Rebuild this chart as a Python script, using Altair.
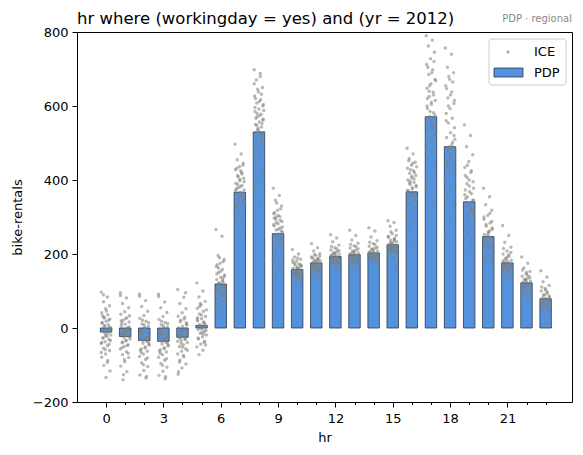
import altair as alt
import pandas as pd

hours = list(range(24))
pdp = [-11, -23, -34, -36, -25, 7, 119, 367, 530, 255, 158, 176,
       193, 198, 203, 225, 368, 571, 490, 341, 247, 176, 122, 79]

ice = [
    [97, 84, 71, 60, 52, 41, 36, 29, 24, 18, 13, 9, 4, 1, -3, -7, -11, -14, -19, -23, -26, -31, -37, -42, -48, -55, -61, -70, -79, -88, -101, -116, -134, 15, -9, 27, -34, 46, 33, 21, 7, -1, -16, -28, -44, -58, -66, -93, 90, 2, -21, -39],
    [95, 81, 66, 55, 44, 37, 28, 21, 16, 10, 5, 0, -5, -9, -14, -18, -22, -26, -30, -35, -40, -45, -50, -57, -64, -72, -80, -91, -103, -118, -140, 3, -20, 19, -47, -126, 33, 25, 12, -2, -12, -24, -33, -53, -68, -85, 88, -7, -38],
    [92, 74, 58, 45, 34, 26, 18, 11, 5, -1, -7, -12, -17, -22, -27, -31, -36, -41, -46, -51, -57, -63, -70, -77, -85, -94, -104, -115, -127, -135, -9, -38, 8, -60, -131, 21, 14, 1, -15, -25, -33, -44, -54, -66, -81, -99, 86, -29],
    [91, 70, 55, 42, 31, 23, 15, 9, 3, -3, -9, -14, -19, -24, -29, -34, -38, -43, -48, -53, -59, -65, -72, -79, -87, -96, -106, -117, -128, -137, -11, -40, 6, -63, -132, 18, 12, -1, -17, -27, -36, -46, -56, -68, -83, -101, 85, -31],
    [104, 83, 66, 52, 41, 32, 24, 17, 11, 5, 0, -5, -10, -15, -20, -25, -29, -34, -39, -45, -50, -56, -63, -70, -78, -87, -97, -108, -125, -2, -27, 14, -52, -118, 29, 21, 8, -8, -18, -31, -42, -60, -74, -92, 95, -22, -36],
    [122, 100, 84, 72, 62, 53, 45, 38, 31, 25, 19, 14, 9, 4, 0, -4, -9, -14, -19, -24, -30, -36, -43, -51, -60, -72, 11, -2, 23, -17, 58, -46, 35, 28, 16, 6, -7, -12, -27, -39, 66, 49],
    [266, 248, 196, 185, 175, 166, 158, 150, 143, 137, 131, 125, 120, 115, 110, 105, 100, 95, 90, 85, 80, 74, 68, 61, 52, 36, 140, 118, 102, 128, 162, 88, 153, 146, 134, 122, 112, 97, 171, 180, 190, 108],
    [497, 470, 455, 445, 436, 428, 420, 412, 405, 398, 391, 385, 379, 373, 367, 361, 355, 349, 343, 337, 331, 324, 316, 307, 297, 285, 270, 252, 372, 358, 388, 346, 402, 330, 416, 409, 395, 382, 376, 364, 352, 340, 425, 432, 440],
    [698, 688, 670, 650, 638, 627, 617, 608, 600, 592, 585, 578, 571, 564, 557, 550, 543, 536, 528, 520, 511, 501, 490, 478, 463, 445, 425, 402, 375, 339, 548, 562, 531, 596, 515, 580, 604, 612, 620, 632, 645, 588, 574, 567, 553, 540, 660, 680],
    [378, 358, 345, 330, 318, 309, 301, 294, 288, 282, 276, 270, 265, 259, 254, 248, 242, 236, 229, 222, 214, 205, 195, 183, 168, 150, 262, 250, 280, 240, 300, 232, 305, 297, 291, 285, 273, 267, 312, 322, 338],
    [212, 200, 192, 186, 181, 177, 173, 170, 167, 164, 161, 158, 155, 152, 149, 146, 143, 140, 137, 133, 129, 124, 118, 110, 160, 150, 171, 144, 184, 139, 175, 168, 163, 157, 153, 147, 142, 189],
    [228, 217, 208, 201, 196, 192, 188, 185, 182, 179, 176, 173, 170, 167, 164, 161, 158, 155, 151, 146, 141, 136, 178, 170, 186, 166, 194, 160, 190, 183, 180, 174, 168, 163, 157, 199],
    [252, 243, 233, 224, 217, 211, 206, 202, 199, 196, 193, 190, 187, 184, 181, 178, 175, 171, 166, 158, 195, 188, 204, 183, 214, 180, 209, 200, 197, 192, 186, 177, 173, 220],
    [264, 250, 238, 229, 222, 216, 211, 207, 203, 200, 197, 194, 191, 188, 185, 182, 178, 173, 165, 153, 199, 193, 208, 189, 220, 184, 214, 205, 201, 196, 190, 180, 176, 226],
    [271, 262, 246, 236, 228, 221, 216, 212, 208, 205, 202, 199, 196, 193, 190, 187, 183, 178, 170, 150, 204, 198, 214, 194, 226, 189, 218, 210, 206, 200, 195, 185, 181, 232],
    [290, 285, 275, 264, 255, 248, 242, 237, 233, 229, 226, 223, 220, 217, 214, 211, 207, 202, 196, 188, 178, 167, 228, 220, 236, 215, 250, 210, 245, 240, 231, 224, 218, 212, 205, 260],
    [486, 470, 458, 448, 440, 432, 425, 418, 412, 406, 400, 394, 388, 382, 376, 370, 364, 357, 350, 342, 334, 325, 314, 301, 285, 265, 240, 217, 372, 360, 392, 352, 410, 345, 403, 397, 385, 379, 366, 420, 428, 436, 445, 452],
    [790, 778, 762, 745, 728, 712, 698, 685, 672, 660, 648, 637, 626, 615, 604, 593, 582, 571, 560, 548, 536, 523, 509, 494, 477, 458, 435, 408, 374, 340, 302, 575, 560, 600, 545, 640, 520, 610, 620, 630, 655, 668, 690, 705, 720, 585, 565, 540],
    [757, 740, 705, 690, 672, 655, 638, 622, 607, 593, 580, 567, 554, 541, 528, 515, 502, 489, 476, 463, 449, 434, 418, 400, 380, 357, 330, 297, 252, 495, 480, 520, 470, 560, 455, 600, 615, 630, 647, 665, 680, 510, 485, 440],
    [549, 520, 490, 468, 450, 434, 420, 407, 395, 384, 373, 363, 354, 345, 336, 327, 318, 309, 300, 290, 280, 269, 257, 243, 226, 205, 345, 333, 360, 322, 390, 310, 400, 412, 425, 440, 378, 368, 350, 315, 295],
    [378, 355, 333, 318, 305, 294, 284, 275, 267, 260, 253, 246, 240, 234, 228, 222, 216, 210, 203, 195, 187, 178, 250, 242, 262, 236, 288, 225, 300, 310, 280, 270, 256, 231, 219],
    [277, 250, 232, 218, 208, 200, 194, 188, 183, 179, 175, 171, 167, 163, 159, 155, 150, 145, 139, 131, 178, 172, 186, 168, 198, 162, 204, 191, 181, 176, 169, 165, 158, 215],
    [192, 175, 162, 153, 146, 140, 135, 131, 127, 123, 119, 115, 111, 107, 103, 99, 94, 88, 80, 68, 124, 118, 132, 113, 142, 108, 137, 129, 121, 116, 110, 104, 150, 157],
    [155, 138, 125, 115, 107, 100, 94, 89, 84, 80, 76, 72, 68, 63, 58, 52, 45, 37, 27, 13, 82, 75, 90, 70, 98, 65, 86, 78, 73, 66, 60, 55, 103, 111],
]

x_major_ticks = [0, 3, 6, 9, 12, 15, 18, 21]
y_ticks = [-200, 0, 200, 400, 600, 800]
title_text = "hr where (workingday = yes) and (yr = 2012)"
corner_text = "PDP · regional"
legend_labels = ["ICE", "PDP"]

FONT = "DejaVu Sans"
W, H = 495, 370

bars_df = pd.DataFrame({"hr": hours, "pdp": pdp})
rows = []
for h, vals in zip(hours, ice):
    for k, v in enumerate(vals):
        rows.append({"hr": h, "value": v, "k": k})
ice_df = pd.DataFrame(rows)

xscale = alt.Scale(domain=[-1.52, 24.38], nice=False, zero=False)
yscale = alt.Scale(domain=[-200, 800], nice=False, zero=False)

y_axis = alt.Axis(values=y_ticks, title="bike-rentals", grid=False, tickSize=5,
                  labelPadding=4, titlePadding=8, domain=False,
                  labelExpr="replace(datum.label, '-', '\u2212')")
x_major = alt.Axis(values=x_major_ticks, title="hr", grid=False, tickSize=5,
                   labelPadding=5, titlePadding=6, domain=False, orient="bottom")
x_minor = alt.Axis(values=hours, title=None, labels=False, grid=False, tickSize=2.5,
                   domain=False, orient="bottom")

bars = alt.Chart(bars_df).transform_calculate(
    x0="datum.hr - 0.3", x1="datum.hr + 0.3", zero="0"
).mark_bar(fill="#5592DE", stroke="#2b3848", strokeWidth=0.8).encode(
    x=alt.X("x0:Q", scale=xscale, axis=x_major),
    x2="x1:Q",
    y=alt.Y("pdp:Q", scale=yscale, axis=y_axis),
    y2="zero:Q",
)

points = alt.Chart(ice_df).transform_calculate(
    jx="datum.hr + (((datum.k * 37) % 23) / 22 - 0.5) * 0.5"
).mark_circle(size=12, color="#7f7f78", opacity=0.55).encode(
    x=alt.X("jx:Q", scale=xscale, axis=x_minor),
    y=alt.Y("value:Q", scale=yscale, axis=y_axis),
)

one = pd.DataFrame({"label": [corner_text]})
corner = alt.Chart(one).mark_text(
    align="right", baseline="alphabetic", fontSize=10, font=FONT, color="#888888"
).encode(x=alt.value(W), y=alt.value(-10), text="label:N")

title = alt.Chart(pd.DataFrame({"label": [title_text]})).mark_text(
    align="left", baseline="alphabetic", fontSize=16.5, font=FONT, color="black"
).encode(x=alt.value(0), y=alt.value(-8), text="label:N")

leg_box = alt.Chart(one).mark_rect(
    fill="white", fillOpacity=0.8, stroke="#cccccc", strokeWidth=1, cornerRadius=3
).encode(x=alt.value(412), x2=alt.value(489), y=alt.value(7), y2=alt.value(53))

leg_dot = alt.Chart(one).mark_circle(size=10, color="#7f7f78", opacity=0.7).encode(
    x=alt.value(431), y=alt.value(20))

leg_rect = alt.Chart(one).mark_rect(fill="#5592DE", stroke="#2b3848", strokeWidth=0.8).encode(
    x=alt.value(417), x2=alt.value(446), y=alt.value(36), y2=alt.value(45))

leg_text = alt.Chart(pd.DataFrame({"label": legend_labels, "yy": [20, 40.5]})).mark_text(
    align="left", baseline="middle", fontSize=13, font=FONT, color="black"
).encode(x=alt.value(457), y=alt.Y("yy:Q", scale=None), text="label:N")

chart = alt.layer(bars, points, title, corner, leg_box, leg_dot, leg_rect, leg_text).resolve_axis(
    x="independent"
).properties(
    width=W, height=H,
    autosize=alt.AutoSizeParams(type="none"),
    padding={"left": 77, "top": 32, "right": 11, "bottom": 53},
    background="white",
).configure_view(
    stroke="black", strokeWidth=1
).configure_axis(
    labelFont=FONT, titleFont=FONT, labelFontSize=13, titleFontSize=13,
    titleFontWeight="normal", labelColor="black", titleColor="black",
    tickColor="black", tickWidth=1
)

chart.save("out.html", embed_options={"renderer": "svg", "actions": False})
